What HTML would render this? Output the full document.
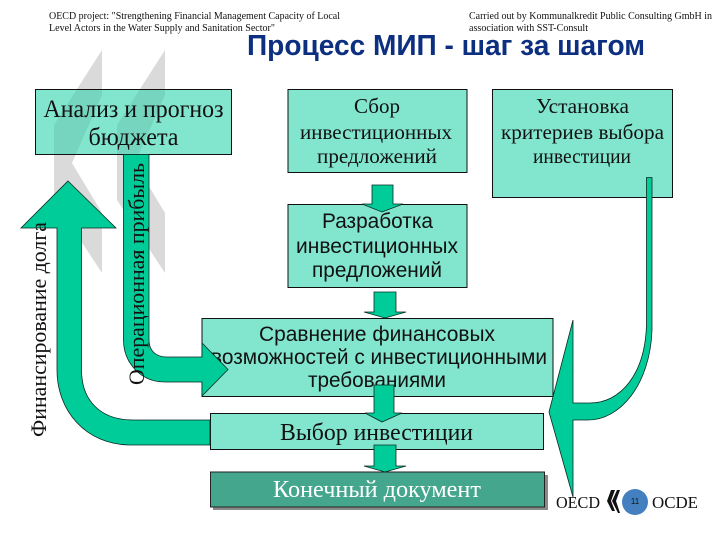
<!DOCTYPE html>
<html><head><meta charset="utf-8"><style>
html,body{margin:0;padding:0;background:#fff;width:720px;height:540px;overflow:hidden}
svg{display:block}
.s{font-family:"Liberation Serif","Noto Serif CJK SC",serif;fill:#111}
.a{font-family:"Liberation Sans","Noto Sans CJK SC",sans-serif;fill:#111}
.g{fill:#00cc99;stroke:#0a2a20;stroke-width:.8}
.b{fill:#82e6cf;stroke:#111;stroke-width:1}
</style></head><body>
<svg width="720" height="540" viewBox="0 0 720 540" xmlns="http://www.w3.org/2000/svg">
<defs><clipPath id="c"><rect x="36" y="89" width="195" height="65"/></clipPath></defs>
<rect width="720" height="540" fill="#fff"/>
<!-- watermark -->
<g fill="#dadada">
<polygon points="102,50 102,95 72,163 102,213 102,273 54,200 54,125"/>
<polygon points="165,50 165,95 135,163 165,213 165,273 117,200 117,125"/>
</g>
<!-- header -->
<g class="s" font-size="10.5">
<text x="49" y="19" textLength="291" lengthAdjust="spacingAndGlyphs">OECD project: "Strengthening Financial Management Capacity of Local</text>
<text x="49" y="31" textLength="226" lengthAdjust="spacingAndGlyphs">Level Actors in the Water Supply and Sanitation Sector"</text>
<text x="469" y="19" textLength="243" lengthAdjust="spacingAndGlyphs">Carried out by Kommunalkredit Public Consulting GmbH in</text>
<text x="469" y="31" textLength="119" lengthAdjust="spacingAndGlyphs">association with SST-Consult</text>
</g>
<text x="247" y="55" font-family="'Liberation Sans',sans-serif" font-weight="bold" font-size="29" fill="#0c2f80" textLength="398" lengthAdjust="spacingAndGlyphs">Процесс МИП - шаг за шагом</text>
<!-- boxes -->
<rect class="b" x="35.5" y="89.5" width="196" height="65"/>
<g fill="#75d5be" clip-path="url(#c)">
<polygon points="102,50 102,95 72,163 102,213 102,273 54,200 54,125"/>
<polygon points="165,50 165,95 135,163 165,213 165,273 117,200 117,125"/>
</g>
<rect x="35.5" y="89.5" width="196" height="65" fill="none" stroke="#111"/>
<rect class="b" x="288" y="89.5" width="179" height="83"/>
<rect class="b" x="492.5" y="89.5" width="180" height="108"/>
<rect class="b" x="288" y="204.5" width="179" height="83"/>
<rect class="b" x="202" y="318.5" width="351" height="78"/>
<rect class="b" x="210.5" y="413.5" width="333" height="36"/>
<rect x="213" y="475" width="335" height="35" fill="#8a8a8a"/>
<rect x="210.5" y="472" width="334" height="35" fill="#45a68e" stroke="#222"/>
<!-- box text -->
<g class="s" font-size="25" text-anchor="middle">
<text x="133.5" y="117" textLength="180" lengthAdjust="spacingAndGlyphs">Анализ и прогноз</text>
<text x="133.5" y="145" textLength="90" lengthAdjust="spacingAndGlyphs">бюджета</text>
</g>
<g class="s" font-size="21" text-anchor="middle">
<text x="377" y="113" textLength="46" lengthAdjust="spacingAndGlyphs">Сбор</text>
<text x="376" y="139" textLength="152" lengthAdjust="spacingAndGlyphs">инвестиционных</text>
<text x="377" y="163" textLength="120" lengthAdjust="spacingAndGlyphs">предложений</text>
<text x="582.5" y="113" textLength="93" lengthAdjust="spacingAndGlyphs">Установка</text>
<text x="582.5" y="139" textLength="163" lengthAdjust="spacingAndGlyphs">критериев выбора</text>
<text x="582" y="163" textLength="98" lengthAdjust="spacingAndGlyphs">инвестиции</text>
</g>
<g class="a" font-size="21" text-anchor="middle">
<text x="377.5" y="228" textLength="111" lengthAdjust="spacingAndGlyphs">Разработка</text>
<text x="377" y="253" textLength="162" lengthAdjust="spacingAndGlyphs">инвестиционных</text>
<text x="377" y="277" textLength="130" lengthAdjust="spacingAndGlyphs">предложений</text>
<text x="377" y="341" textLength="236" lengthAdjust="spacingAndGlyphs">Сравнение финансовых</text>
<text x="379" y="364" textLength="336" lengthAdjust="spacingAndGlyphs">возможностей с инвестиционными</text>
<text x="377" y="387" textLength="138" lengthAdjust="spacingAndGlyphs">требованиями</text>
</g>
<text class="s" x="376.5" y="440" font-size="24" text-anchor="middle" textLength="193" lengthAdjust="spacingAndGlyphs">Выбор инвестиции</text>
<text x="377" y="497" font-family="'Liberation Serif',serif" font-size="24" fill="#fff" text-anchor="middle" textLength="208" lengthAdjust="spacingAndGlyphs">Конечный документ</text>
<!-- big arrows -->
<path class="g" d="M68,181 L116,228 L81.5,228 L81.5,370 C81.5,400 100,420 133,420 L210,420 L210,445 L131,445 C85,445 57,410 57,370 L57,228 L21,228 Z"/>
<path class="g" d="M123.5,154.5 L149,154.5 L149,340 C149,350 155,357 167,357 L202,357 L202,343 L228,369.5 L202,396 L202,382 L165,382 C140,382 123.5,362 123.5,340 Z"/>
<!-- small arrows -->
<path class="g" stroke-width=".5" d="M372,185 L393,185 L393,204 L403,204 L382,212 L362,204 L372,204 Z"/>
<path class="g" stroke-width=".5" d="M374,292 L396,292 L396,312 L406,312 L385,318 L364,312 L374,312 Z"/>
<path class="g" stroke-width=".5" d="M374,385 L394,385 L394,413 L402,413 L382,422 L365,413 L374,413 Z"/>
<path class="g" stroke-width=".5" d="M374,445 L396,445 L396,466 L406,466 L385,472 L364,466 L374,466 Z"/>
<!-- right arrow -->
<path class="g" d="M646.5,177.5 L652,177.5 L652,330 C650,385 620,420 588,420 L573,420 L573,497 L549,412 L573,320 L573,403 L590,403 C620,403 645,375 646.5,325 Z"/>
<!-- rotated labels -->
<text class="s" font-size="22" transform="translate(46,437) rotate(-90)" textLength="215" lengthAdjust="spacingAndGlyphs">Финансирование долга</text>
<text class="s" font-size="22" transform="translate(144,385) rotate(-90)" textLength="222" lengthAdjust="spacingAndGlyphs">Операционная прибыль</text>
<!-- footer -->
<g font-family="'Liberation Serif',serif" font-size="17" fill="#111">
<text x="556" y="508" textLength="44" lengthAdjust="spacingAndGlyphs">OECD</text>
<text x="652" y="508" textLength="46" lengthAdjust="spacingAndGlyphs">OCDE</text>
</g>
<g fill="#111">
<polygon points="611,490 615,490 611,501 615,511 612,511 607,501"/>
<polygon points="617,490 620,490 616,501 620,513 618,513 612,501"/>
</g>
<circle cx="635" cy="502" r="13" fill="#4480c0"/>
<text x="635" y="504" font-family="'Liberation Sans',sans-serif" font-size="8" fill="#111" text-anchor="middle">11</text>
</svg>
</body></html>
